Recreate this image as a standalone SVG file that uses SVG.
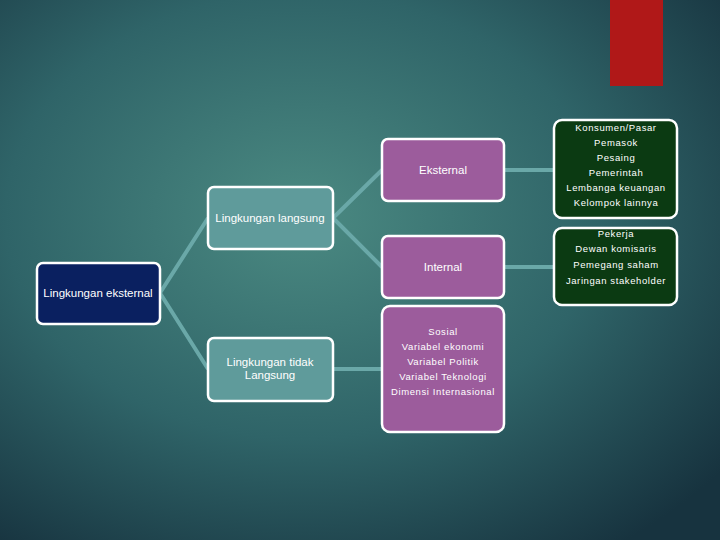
<svg xmlns="http://www.w3.org/2000/svg" width="720" height="540" viewBox="0 0 720 540">
<defs>
<radialGradient id="bg" cx="0.42" cy="0.4" r="0.75">
<stop offset="0" stop-color="#4b8a82"/>
<stop offset="0.55" stop-color="#2f6468"/>
<stop offset="1" stop-color="#17333f"/>
</radialGradient>
<style>
.n{stroke:#fff;stroke-width:2.5}
.t{font-family:"Liberation Sans",Arial,sans-serif;fill:#fff;text-anchor:middle}
.m{font-size:11.5px}
.s{font-size:9.5px;letter-spacing:0.6px}
.c{stroke:#6aa8a8;stroke-width:4;fill:none}
</style>
</defs>
<rect width="720" height="540" fill="url(#bg)"/>
<rect x="610" y="0" width="53" height="86" fill="#b01818"/>
<g id="connectors">
<path class="c" d="M160 293 L208 218 M160 293 L208 369 M333 218 L382 170 M333 218 L382 267 M333 369 L382 369 M504 170 L554 170 M504 267 L554 267"/>
</g>
<g id="root"><rect class="n" x="37" y="263" width="123" height="61" rx="6" fill="#0a2060"/><text class="t m" x="98" y="297">Lingkungan eksternal</text></g>
<g id="langsung"><rect class="n" x="208" y="187" width="125" height="62" rx="6" fill="#5f9b9b"/><text class="t m" x="270" y="222">Lingkungan langsung</text></g>
<g id="tidak"><rect class="n" x="208" y="338" width="125" height="63" rx="6" fill="#5f9b9b"/><text class="t m" x="270" y="366">Lingkungan tidak</text><text class="t m" x="270" y="379">Langsung</text></g>
<g id="eksternal"><rect class="n" x="382" y="139" width="122" height="62" rx="6" fill="#9c5c9c"/><text class="t m" x="443" y="174">Eksternal</text></g>
<g id="internal"><rect class="n" x="382" y="236" width="122" height="62" rx="6" fill="#9c5c9c"/><text class="t m" x="443" y="271">Internal</text></g>
<g id="makro"><rect class="n" x="382" y="306" width="122" height="126" rx="8" fill="#9c5c9c"/>
<text class="t s" x="443" y="335">Sosial</text><text class="t s" x="443" y="350">Variabel ekonomi</text><text class="t s" x="443" y="365">Variabel Politik</text><text class="t s" x="443" y="380">Variabel Teknologi</text><text class="t s" x="443" y="395">Dimensi Internasional</text></g>
<g id="list1"><rect class="n" x="554" y="120" width="123" height="98" rx="8" fill="#0b3a12"/>
<text class="t s" x="616" y="131">Konsumen/Pasar</text><text class="t s" x="616" y="146">Pemasok</text><text class="t s" x="616" y="161">Pesaing</text><text class="t s" x="616" y="176">Pemerintah</text><text class="t s" x="616" y="191">Lembanga keuangan</text><text class="t s" x="616" y="206">Kelompok lainnya</text></g>
<g id="list2"><rect class="n" x="554" y="228" width="123" height="77" rx="8" fill="#0b3a12"/>
<text class="t s" x="616" y="237">Pekerja</text><text class="t s" x="616" y="252">Dewan komisaris</text><text class="t s" x="616" y="268">Pemegang saham</text><text class="t s" x="616" y="284">Jaringan stakeholder</text></g>
</svg>
